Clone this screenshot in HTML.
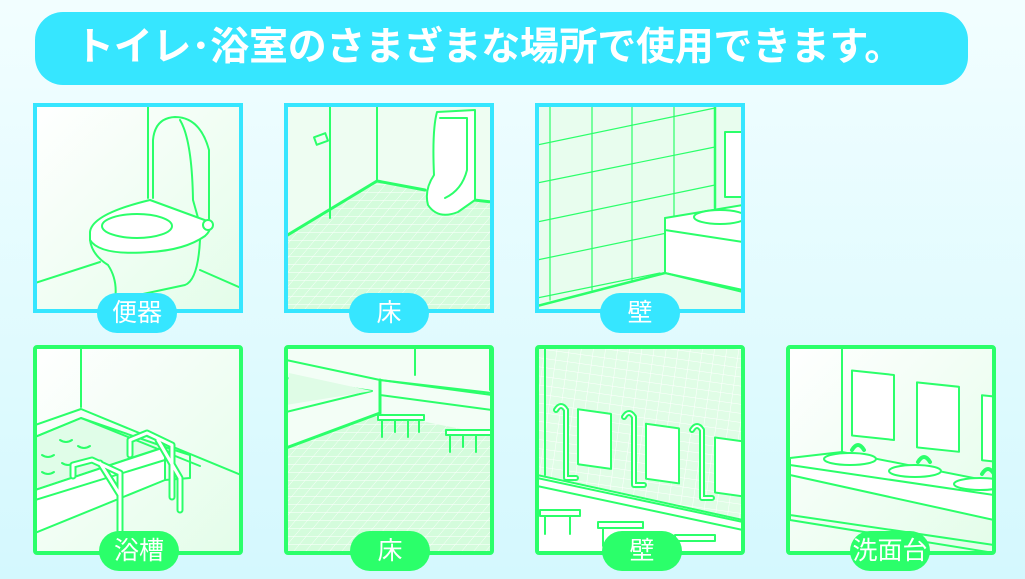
<!DOCTYPE html>
<html><head><meta charset="utf-8">
<style>
html,body{margin:0;padding:0;}
body{width:1025px;height:579px;overflow:hidden;background:linear-gradient(#f2feff,#d4f8fe);position:relative;font-family:"Liberation Sans","Noto Sans CJK JP",sans-serif;}
.hdr{position:absolute;left:35px;top:12px;width:933px;height:73px;border-radius:28px;background:#36e6ff;}
.hdr span{position:absolute;left:40px;top:14px;color:#fff;font-size:39px;font-weight:bold;letter-spacing:-0.3px;white-space:nowrap;line-height:44px;}
.lbl{position:absolute;width:80px;height:40px;border-radius:20px;color:#fff;font-size:25px;text-align:center;line-height:40px;}
.c{background:#36e6ff}.g{background:#2bff6a}
svg{position:absolute;left:0;top:0}
</style></head><body>
<svg width="1025" height="579" viewBox="0 0 1025 579">
<defs>
<linearGradient id="wg" x1="0" y1="0" x2="1" y2="1"><stop offset="0" stop-color="#ffffff"/><stop offset="1" stop-color="#e3fde9"/></linearGradient>
<pattern id="tile" width="12" height="8" patternUnits="userSpaceOnUse" patternTransform="skewX(-40)"><rect width="12" height="8" fill="#d4fcdc"/><path d="M0 0H12M0 0V8" stroke="#fff" stroke-width="1"/></pattern>
<pattern id="wt" width="12" height="9" patternUnits="userSpaceOnUse" patternTransform="rotate(8)"><rect width="12" height="9" fill="#e0fde6"/><path d="M0 0H12M0 0V9" stroke="#fff" stroke-width="1"/></pattern>
<clipPath id="p1"><rect x="35" y="105" width="206" height="206"/></clipPath>
<clipPath id="p2"><rect x="286" y="105" width="206" height="206"/></clipPath>
<clipPath id="p3"><rect x="537" y="105" width="206" height="206"/></clipPath>
<clipPath id="q1"><rect x="35" y="347" width="206" height="206"/></clipPath>
<clipPath id="q2"><rect x="286" y="347" width="206" height="206"/></clipPath>
<clipPath id="q3"><rect x="537" y="347" width="206" height="206"/></clipPath>
<clipPath id="q4"><rect x="788" y="347" width="206" height="206"/></clipPath>
</defs>
<g fill="none" stroke="#2bff6a" stroke-width="2" stroke-linejoin="round" stroke-linecap="round">
<g clip-path="url(#p1)">
<rect x="35" y="105" width="206" height="206" fill="url(#wg)" stroke="none"/>
<path d="M148 105V198M35 283L100 262M200 270L241 288"/>
<path d="M153 198V140Q155 118 175 117Q200 117 209 150V220L200 225L193 200Q192 140 180 120" />
<path d="M90 232Q92 214 150 200L210 222Q212 230 205 236Q185 250 150 252Q100 256 90 240Z" fill="#fff"/>
<ellipse cx="137" cy="226" rx="35" ry="12" fill="#fff"/>
<path d="M90 240Q92 255 108 265Q118 280 115 300L185 285Q198 280 200 240"/>
<ellipse cx="208" cy="225" rx="5" ry="5" fill="#fff"/>
</g>
<g clip-path="url(#p2)">
<rect x="286" y="105" width="206" height="206" fill="#eefdf2" stroke="none"/>
<path d="M286 236L377 181L492 202V311H286Z" fill="url(#tile)" stroke="none"/>
<path d="M286 236L377 181L425 190M465 199L492 202" stroke-width="3"/>
<path d="M377 105V181M330 105V218"/>
<rect x="315" y="135" width="12" height="8" transform="rotate(-20 321 139)"/>
<path d="M437 112Q432 130 434 175Q424 190 428 205Q438 220 458 212L475 200V110Z" fill="#fff"/>
<path d="M440 118H467V170Q462 190 445 198"/>
</g>
<g clip-path="url(#p3)">
<rect x="537" y="105" width="206" height="206" fill="#e8fdee" stroke="none"/>
<path d="M537 145L715 108M537 183L715 147M537 222L715 185M537 260L715 223M537 298L660 273" stroke-width="1.2"/>
<path d="M550 105V300M592 105V290M632 105V280M674 105V270" stroke-width="1.2"/>
<path d="M715 105V208M537 306L665 273" stroke-width="2.5"/>
<path d="M665 218L743 205V290L665 273Z" fill="#fff"/>
<path d="M665 218V230L743 242M665 273L743 292"/>
<ellipse cx="720" cy="217" rx="26" ry="7" fill="#fff"/>
<rect x="725" y="132" width="20" height="65" fill="#fff"/>
</g>
<g clip-path="url(#q1)">
<rect x="35" y="347" width="206" height="206" fill="url(#wg)" stroke="none"/>
<path d="M81 347V407"/>
<path d="M35 437L81 418L165 447L137 456L35 490Z" fill="#e0fde8"/>
<path d="M35 425L81 409L241 475M35 437L81 418L200 466"/>
<path d="M35 490L165 447V480L35 533Z" fill="#fff"/>
<path d="M35 500L165 460M165 447L190 455V478L165 480"/>
<path d="M60 440q6 4 12 0M78 446q6 4 12 0M42 455q6 4 12 0M62 463q6 4 12 0M42 472q6 4 12 0" stroke-width="2"/>
<path d="M73 476V465L92 460L120 473V515M100 463L120 495V535" stroke-width="7"/>
<path d="M73 476V465L92 460L120 473V515M100 463L120 495V535" stroke-width="3" stroke="#fff"/>
<path d="M130 455V440L147 433L172 445V497M158 440L180 478V510" stroke-width="7"/>
<path d="M130 455V440L147 433L172 445V497M158 440L180 478V510" stroke-width="3" stroke="#fff"/>
</g>
<g clip-path="url(#q2)">
<rect x="286" y="347" width="206" height="206" fill="#f3fef6" stroke="none"/>
<path d="M286 448L380 413L492 435V553H286Z" fill="url(#tile)" stroke="none"/>
<path d="M286 448L380 413M380 413V380" stroke-width="3"/>
<path d="M286 360L380 380L492 395M286 378L372 391L286 412Z" />
<path d="M289 373L372 391L286 405" fill="#dffce6" stroke="none"/>
<path d="M380 380L492 393V410L380 395"/>
<path d="M415 347V375M490 347V390"/>
<path d="M378 415h46v5h-46zM382 420v17M395 420v12M408 420v17M419 420v12" fill="#fff"/>
<path d="M446 430h46v5h-46zM450 435v17M463 435v12M476 435v17" fill="#fff"/>
</g>
<g clip-path="url(#q3)">
<rect x="537" y="347" width="206" height="206" fill="url(#wt)" stroke="none"/>
<path d="M545 347V475"/>
<path d="M537 475L743 520V553H537Z" fill="#fff"/>
<path d="M537 478L743 522M537 486L743 530"/>
<rect x="578" y="410" width="33" height="55" fill="#fff" transform="skewY(8) translate(0 -82)"/>
<rect x="646" y="424" width="33" height="55" fill="#fff" transform="skewY(8) translate(0 -91)"/>
<rect x="715" y="438" width="33" height="55" fill="#fff" transform="skewY(8) translate(0 -101)"/>
<path d="M556 410q5-8 10 0v68h10M624 417q5-8 10 0v68h10M692 430q5-8 10 0v68h10" stroke-width="6"/>
<path d="M556 410q5-8 10 0v68h10M624 417q5-8 10 0v68h10M692 430q5-8 10 0v68h10" stroke-width="2" stroke="#fff"/>
<path d="M540 510h40v6h-40zM545 516v18M570 516v18M598 522h45v6h-45zM603 528v18M675 535h40v6h-40z" fill="#fff"/>
</g>
<g clip-path="url(#q4)">
<rect x="788" y="347" width="206" height="206" fill="url(#wg)" stroke="none"/>
<path d="M842 347V452"/>
<rect x="852" y="370" width="42" height="65" fill="#fff" transform="skewY(6) translate(0 -89)"/>
<rect x="917" y="382" width="42" height="65" fill="#fff" transform="skewY(6) translate(0 -96)"/>
<rect x="982" y="395" width="42" height="65" fill="#fff" transform="skewY(6) translate(0 -103)"/>
<path d="M790 458L842 452L994 482V520L790 475Z" fill="#fff"/>
<path d="M790 465L994 495M790 475V520L994 553M790 515L994 545"/>
<ellipse cx="850" cy="459" rx="26" ry="6" fill="#fff"/>
<ellipse cx="915" cy="471" rx="26" ry="6" fill="#fff"/>
<ellipse cx="980" cy="484" rx="26" ry="6" fill="#fff"/>
<path d="M852 450q6-10 12 0M918 462q6-10 12 0M982 474q6-10 12 0" stroke-width="4"/>
</g>
</g>
<g fill="none" stroke-width="4">
<rect x="35" y="105" width="206" height="206" stroke="#36e6ff"/>
<rect x="286" y="105" width="206" height="206" stroke="#36e6ff"/>
<rect x="537" y="105" width="206" height="206" stroke="#36e6ff"/>
<rect x="35" y="347" width="206" height="206" rx="2" stroke="#2bff6a"/>
<rect x="286" y="347" width="206" height="206" rx="2" stroke="#2bff6a"/>
<rect x="537" y="347" width="206" height="206" rx="2" stroke="#2bff6a"/>
<rect x="788" y="347" width="206" height="206" rx="2" stroke="#2bff6a"/>
</g>
</svg>
<div class="hdr"><span>トイレ･浴室のさまざまな場所で使用できます。</span></div>
<div class="lbl c" style="left:97px;top:293px">便器</div>
<div class="lbl c" style="left:349px;top:293px">床</div>
<div class="lbl c" style="left:600px;top:293px">壁</div>
<div class="lbl g" style="left:99px;top:531px">浴槽</div>
<div class="lbl g" style="left:350px;top:531px">床</div>
<div class="lbl g" style="left:602px;top:531px">壁</div>
<div class="lbl g" style="left:850px;top:531px">洗面台</div>
</body></html>
